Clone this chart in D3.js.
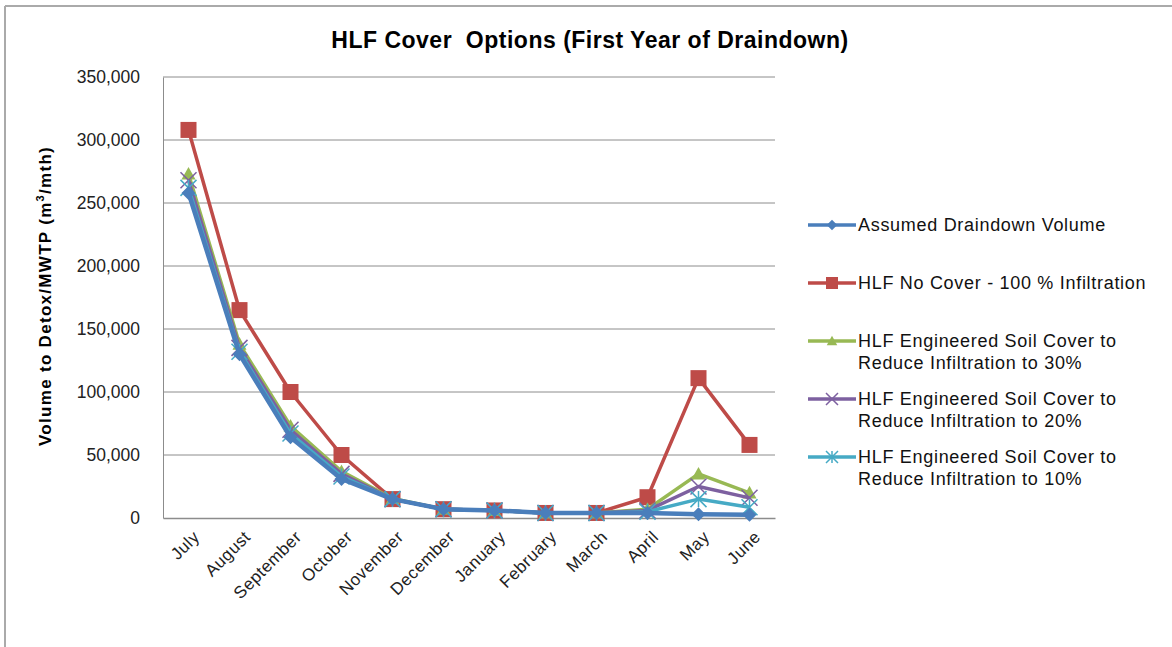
<!DOCTYPE html>
<html>
<head>
<meta charset="utf-8">
<script src="https://cdn.jsdelivr.net/npm/d3@7/dist/d3.min.js"></script>
<style>
  html, body { margin: 0; padding: 0; background: #fff; }
  svg { display: block; font-family: "Liberation Sans", Arial, sans-serif; }
</style>
</head>
<body>
<svg id="chart" width="1172" height="647"></svg>
<script>
// Months of the first draindown year
const months = ["July", "August", "September", "October", "November", "December",
                "January", "February", "March", "April", "May", "June"];

// Monthly volumes (m3/mth) for each scenario
const assumedDraindown = [258000, 130000, 64000, 31000, 15000, 7000, 6000, 4000, 4000, 4000, 3000, 2500];
const noCover100       = [308000, 165000, 100000, 50000, 15000, 7000, 6000, 4000, 4000, 16500, 111000, 58000];
const soilCover30      = [273000, 138000, 73000, 37000, 15500, 7000, 6000, 4000, 4000, 7000, 35000, 20000];
const soilCover20      = [268000, 135000, 70000, 35000, 15000, 7000, 6000, 4000, 4000, 6000, 25000, 16000];
const soilCover10      = [262000, 132000, 67000, 33000, 15000, 7000, 6000, 4000, 4000, 5000, 15000, 8500];

const yTicks = [0, 50000, 100000, 150000, 200000, 250000, 300000, 350000];

const seriesNames = [
  ["Assumed Draindown Volume"],
  ["HLF No Cover - 100 % Infiltration"],
  ["HLF Engineered Soil Cover to", "Reduce Infiltration to 30%"],
  ["HLF Engineered Soil Cover to", "Reduce Infiltration to 20%"],
  ["HLF Engineered Soil Cover to", "Reduce Infiltration to 10%"]
];

const series = [
  { name: seriesNames[0], values: assumedDraindown, color: "#4a7ebb", marker: "diamond", width: 4.5 },
  { name: seriesNames[1], values: noCover100,       color: "#be4b48", marker: "square",  width: 3.5 },
  { name: seriesNames[2], values: soilCover30,      color: "#98b954", marker: "triangle", width: 3.5 },
  { name: seriesNames[3], values: soilCover20,      color: "#7d60a0", marker: "x",        width: 3.5 },
  { name: seriesNames[4], values: soilCover10,      color: "#46aac5", marker: "star",     width: 3.5 }
];

const svg = d3.select("#chart");

// Outer frame (top and left edges)
svg.append("line").attr("x1", 5).attr("x2", 1172).attr("y1", 6).attr("y2", 6)
  .attr("stroke", "#aaa").attr("stroke-width", 2);
svg.append("line").attr("x1", 5).attr("x2", 5).attr("y1", 6).attr("y2", 647)
  .attr("stroke", "#aaa").attr("stroke-width", 2);

const plot = { left: 163, right: 775, top: 77, bottom: 518 };

const x = d3.scaleBand().domain(months).range([plot.left, plot.right]);
const y = d3.scaleLinear().domain([0, 350000]).range([plot.bottom, plot.top]);
const cx = m => x(m) + x.bandwidth() / 2;

// Title
svg.append("text")
  .attr("x", 590).attr("y", 48)
  .attr("text-anchor", "middle")
  .attr("font-size", 23).attr("font-weight", "bold").attr("fill", "#000")
  .attr("letter-spacing", 0.5)
  .attr("xml:space", "preserve")
  .text("HLF Cover  Options (First Year of Draindown)");

// Horizontal gridlines
svg.append("g")
  .selectAll("line")
  .data(yTicks.filter(d => d > 0))
  .join("line")
  .attr("x1", plot.left).attr("x2", plot.right)
  .attr("y1", d => y(d)).attr("y2", d => y(d))
  .attr("stroke", "#8c8c8c").attr("stroke-width", 1);

// Y axis
const yAxis = svg.append("g")
  .attr("transform", `translate(${plot.left},0)`)
  .call(d3.axisLeft(y).tickValues(yTicks).tickSize(0).tickPadding(23)
    .tickFormat(d3.format(",")));
yAxis.select(".domain").attr("stroke", "#8c8c8c");
yAxis.selectAll("text").attr("font-size", 17.5).attr("fill", "#222")
  .attr("font-family", "Liberation Sans, Arial, sans-serif");

// X axis
const xAxis = svg.append("g")
  .attr("transform", `translate(0,${plot.bottom})`)
  .call(d3.axisBottom(x).tickSize(0).tickPadding(0));
xAxis.select(".domain").attr("stroke", "#8c8c8c").attr("stroke-width", 1.5);
xAxis.selectAll("text")
  .attr("font-size", 17).attr("fill", "#222")
  .attr("letter-spacing", 0.5)
  .attr("font-family", "Liberation Sans, Arial, sans-serif")
  .attr("text-anchor", "end")
  .attr("dy", null)
  .attr("transform", "translate(12,20) rotate(-45)");

// Y axis title
const yTitle = svg.append("text")
  .attr("transform", "translate(51,296) rotate(-90)")
  .attr("text-anchor", "middle")
  .attr("font-size", 17).attr("font-weight", "bold").attr("fill", "#000")
  .attr("letter-spacing", 1.3);
yTitle.append("tspan").text("Volume to Detox/MWTP (m");
yTitle.append("tspan").attr("font-size", 11).attr("dy", -7).text("3");
yTitle.append("tspan").attr("dy", 7).text("/mth)");

// Marker drawing helper
function drawMarker(g, type, color, px, py, s) {
  if (type === "diamond") {
    g.append("path").attr("d", `M${px},${py - s}L${px + s},${py}L${px},${py + s}L${px - s},${py}Z`)
      .attr("fill", color);
  } else if (type === "square") {
    g.append("rect").attr("x", px - s).attr("y", py - s).attr("width", 2 * s).attr("height", 2 * s)
      .attr("fill", color);
  } else if (type === "triangle") {
    g.append("path").attr("d", `M${px},${py - s}L${px + s},${py + s * 0.8}L${px - s},${py + s * 0.8}Z`)
      .attr("fill", color);
  } else if (type === "x") {
    g.append("path").attr("d", `M${px - s},${py - s}L${px + s},${py + s}M${px - s},${py + s}L${px + s},${py - s}`)
      .attr("stroke", color).attr("stroke-width", 1.5);
  } else if (type === "star") {
    g.append("path").attr("d", `M${px - s},${py - s}L${px + s},${py + s}M${px - s},${py + s}L${px + s},${py - s}M${px},${py - s}L${px},${py + s}`)
      .attr("stroke", color).attr("stroke-width", 1.5);
  }
}

const markerSize = { diamond: 7, square: 8, triangle: 7, x: 8, star: 8 };

const line = d3.line().x((d, i) => cx(months[i])).y(d => y(d));

// Draw series: red first so the blue-family curves sit on top
const drawOrder = [1, 2, 3, 4, 0];
drawOrder.forEach(k => {
  const s = series[k];
  const g = svg.append("g");
  g.append("path").datum(s.values).attr("d", line)
    .attr("fill", "none").attr("stroke", s.color).attr("stroke-width", s.width)
    .attr("stroke-linejoin", "round");
  s.values.forEach((v, i) => drawMarker(g, s.marker, s.color, cx(months[i]), y(v), markerSize[s.marker]));
});

// Legend
const legendRows = [225, 283, 341, 399, 457];
const legend = svg.append("g");
series.forEach((s, k) => {
  const ly = legendRows[k];
  legend.append("line").attr("x1", 808).attr("x2", 856).attr("y1", ly).attr("y2", ly)
    .attr("stroke", s.color).attr("stroke-width", 3.5);
  drawMarker(legend, s.marker, s.color, 832, ly, markerSize[s.marker] * 0.75);
  const t = legend.append("text").attr("x", 858).attr("y", ly + 6)
    .attr("font-size", 18).attr("fill", "#111").attr("letter-spacing", 0.7);
  s.name.forEach((ln, j) => {
    t.append("tspan").attr("x", 858).attr("dy", j === 0 ? 0 : 22).text(ln);
  });
});
</script>
</body>
</html>
